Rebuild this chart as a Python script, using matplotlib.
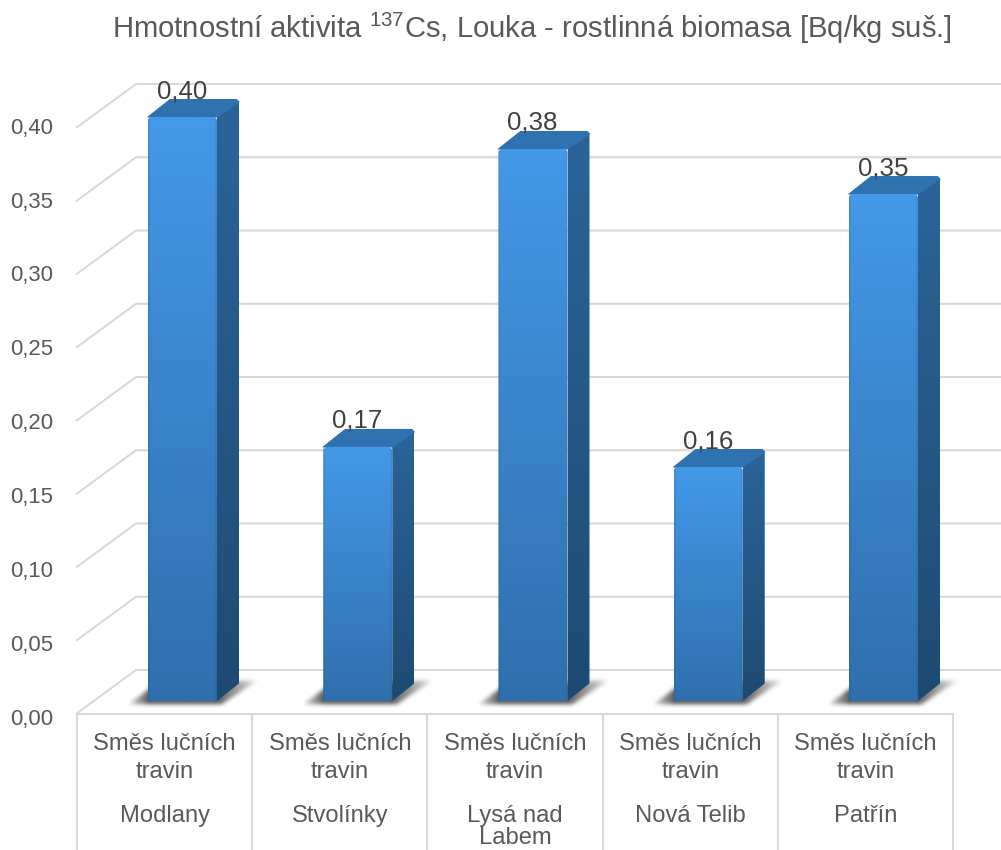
import numpy as np
import matplotlib
matplotlib.use("Agg")
import matplotlib.pyplot as plt
from matplotlib.patches import Polygon
from matplotlib.path import Path

plt.rcParams["font.family"] = ["Liberation Sans", "DejaVu Sans"]
plt.rcParams["mathtext.default"] = "regular"

# Chart data
title = "Hmotnostní aktivita $^{137}$Cs, Louka - rostlinná biomasa [Bq/kg suš.]"
species = ["Směs lučních\ntravin"] * 5
sites = ["Modlany", "Stvolínky", "Lysá nad\nLabem", "Nová Telib", "Patřín"]
activity = [0.3986, 0.1734, 0.3768, 0.1597, 0.3460]
y_ticks = [0.00, 0.05, 0.10, 0.15, 0.20, 0.25, 0.30, 0.35, 0.40]

W, H = 1001, 850
PX_PER_CAT = 175.25      # horizontal distance between neighbouring bars
PX_PER_UNIT = 1465.0     # vertical pixels per Bq/kg
ORIGIN_X, ORIGIN_Y = 182.5, 701.0   # first bar centre, bar foot

GRID = "#D9D9D9"
TEXT = "#595959"
LABEL = "#404040"


def X(px):
    return (px - ORIGIN_X) / PX_PER_CAT


def Y(py):
    return (ORIGIN_Y - py) / PX_PER_UNIT


DX = lambda px: px / PX_PER_CAT
DY = lambda px: px / PX_PER_UNIT


def gradient_fill(ax, verts, top, bottom, zorder):
    """Fill a polygon with a vertical colour gradient."""
    verts = np.asarray(verts)
    c0, c1 = matplotlib.colors.to_rgb(top), matplotlib.colors.to_rgb(bottom)
    t = np.linspace(0, 1, 256)[:, None, None]
    img = (1 - t) * np.array(c0)[None, None, :] + t * np.array(c1)[None, None, :]
    extent = (verts[:, 0].min(), verts[:, 0].max(), verts[:, 1].min(), verts[:, 1].max())
    im = ax.imshow(img, extent=extent, origin="upper", aspect="auto", zorder=zorder,
                   interpolation="bilinear")
    clip = Polygon(verts, transform=ax.transData, fc="none", ec="none")
    ax.add_patch(clip)
    im.set_clip_path(clip)


def blur(a, radius):
    """Separable box blur, applied twice for a smooth falloff."""
    kernel = np.ones(2 * radius + 1) / (2 * radius + 1)
    for _ in range(2):
        a = np.apply_along_axis(lambda r: np.convolve(r, kernel, mode="same"), 0, a)
        a = np.apply_along_axis(lambda r: np.convolve(r, kernel, mode="same"), 1, a)
    return a


def shadow(ax, cx, zorder):
    """Soft cast shadow lying on the floor next to a bar foot."""
    # Offsets in pixels from the bar foot centre, y measured upward
    outline = Path([(-55, -3), (-33, 13), (56, 20), (76, 21), (38, -4)])
    xs = np.arange(-70, 90)
    ys = np.arange(-14, 32)
    gx, gy = np.meshgrid(xs, ys)
    mask = outline.contains_points(np.c_[gx.ravel(), gy.ravel()]).reshape(gx.shape).astype(float)
    mask = blur(mask, 2)
    fade = np.interp(xs, [-58, -34, 34, 78], [0.1, 1.0, 1.0, 0.1])
    rgba = np.zeros(mask.shape + (4,))
    rgba[..., :3] = 0.25
    rgba[..., 3] = mask * fade[None, :] * 0.85
    extent = (cx + DX(xs[0]), cx + DX(xs[-1]), DY(ys[0]), DY(ys[-1]))
    ax.imshow(rgba, extent=extent, origin="lower", aspect="auto", zorder=zorder,
              interpolation="bilinear")


fig = plt.figure(figsize=(W / 100, H / 100), dpi=100)
ax = fig.add_axes([0, 0, 1, 1])
ax.axis("off")

# Back wall gridlines with their diagonal run down the left side wall
back_x, front_x = X(136), X(76)
for v in y_ticks:
    yb = v + DY(31)
    yf = v - DY(13)
    ax.plot([front_x, back_x, X(W)], [yf, yb, yb], color=GRID, lw=1.5,
            solid_joinstyle="miter", solid_capstyle="butt", zorder=1)
    ax.text(X(53), v * 1477 / PX_PER_UNIT + DY(-15.5), f"{v:.2f}".replace(".", ","),
            ha="right", va="center_baseline", fontsize=15.9, color=TEXT, zorder=6)

# Front edge of the floor and the two-level category table
table_edges = [77 + 175.2 * i for i in range(6)]
ax.plot([X(77), X(953)], [DY(-13), DY(-13)], color=GRID, lw=1.5, zorder=1)
for e in table_edges:
    ax.plot([X(e), X(e)], [DY(-13), Y(850)], color=GRID, lw=1.5, zorder=1,
            solid_capstyle="butt")

half = DX(34.5)
side_w, side_h = DX(22), DY(17.5)
corner_x, corner_y = DX(2.5), DY(2.5)

for i, v in enumerate(activity):
    shadow(ax, i, 2)

for i, v in enumerate(activity):
    l, r = i - half, i + half
    # Right-hand face
    gradient_fill(ax, [(r, 0), (r + side_w, side_h), (r + side_w, v + side_h - corner_y),
                       (r + side_w - corner_x, v + side_h), (r, v)],
                  "#2B6598", "#1E4A72", 3)
    # Lid
    ax.add_patch(Polygon([(l, v), (l + side_w, v + side_h), (r + side_w - corner_x, v + side_h),
                          (r + side_w, v + side_h - corner_y), (r, v)],
                         fc="#2E72B0", ec="#2E72B0", lw=0.8, joinstyle="round", zorder=3))
    # Front face
    gradient_fill(ax, [(l, 0), (l, v - corner_y), (l + corner_x, v), (r - corner_x, v),
                       (r, v - corner_y), (r, 0)],
                  "#4499E8", "#2F6FAD", 4)
    # Slightly darker bevel along the front's vertical edges
    for edge in (l + DX(0.8), r - DX(0.8)):
        ax.plot([edge, edge], [0, v - corner_y], color="#1F4E79", alpha=0.16, lw=1.2, zorder=5)
    ax.text(i - DX(0.5), v + DY(19), f"{v:.2f}".replace(".", ","), ha="center", va="baseline",
            fontsize=18.6, color=LABEL, zorder=7)

# Category text: species first, site beneath it
for i, (sp, site) in enumerate(zip(species, sites)):
    cx = X((table_edges[i] + table_edges[i + 1]) / 2)
    first, second = sp.split("\n")
    ax.text(cx, Y(750), first, ha="center", va="baseline", fontsize=17.1, color=TEXT)
    ax.text(cx, Y(778), second, ha="center", va="baseline", fontsize=17.1, color=TEXT)
    for j, part in enumerate(site.split("\n")):
        ax.text(cx, Y(822 + 22.5 * j), part, ha="center", va="baseline", fontsize=17.1,
                color=TEXT)

ax.text(X(532), Y(38), title, ha="center", va="baseline", fontsize=21.1, color=TEXT)

ax.set_xlim(X(0), X(W))
ax.set_ylim(Y(H), Y(0))

fig.savefig("out.png", dpi=100)
